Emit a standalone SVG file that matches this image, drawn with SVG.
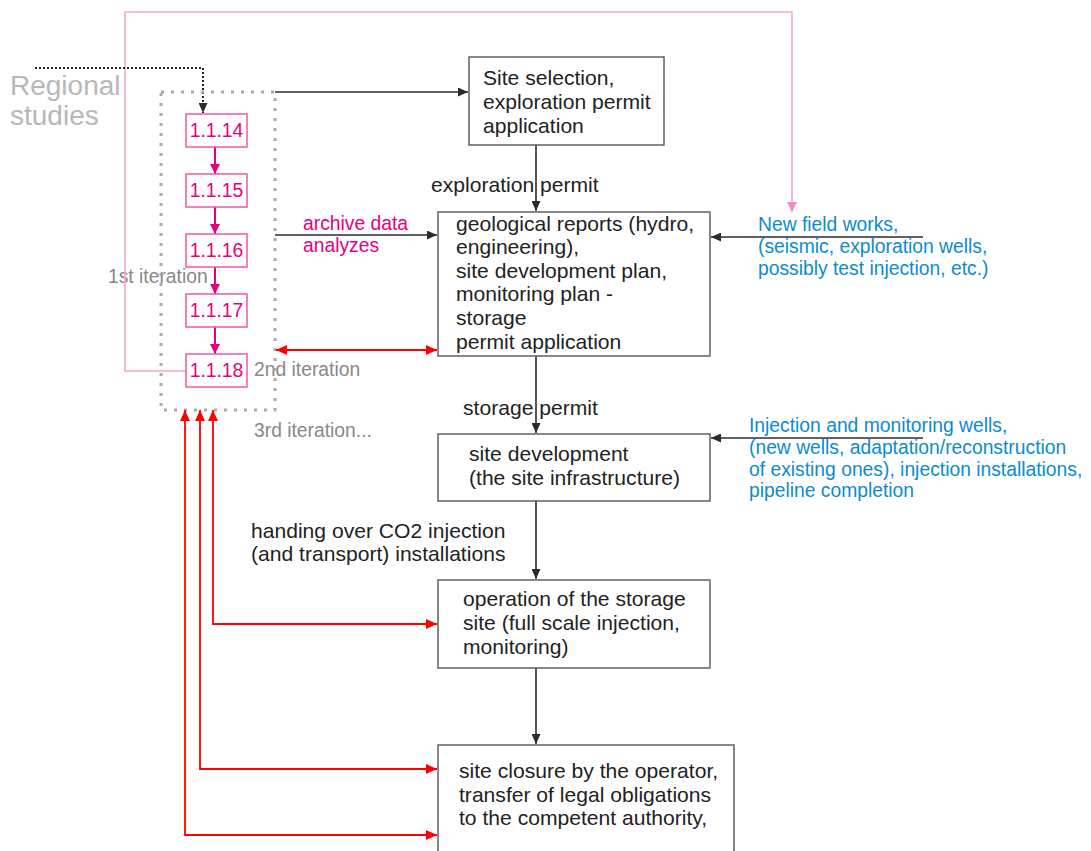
<svg xmlns="http://www.w3.org/2000/svg" width="1091" height="851" viewBox="0 0 1091 851">
  <style>
    text { font-family: "Liberation Sans", Arial, sans-serif; }
    .box { fill: #ffffff; stroke: #555555; stroke-width: 1.4; }
    .txt { font-size: 21.1px; fill: #222222; }
    .blue { font-size: 19.3px; fill: #0b8bd0; }
    .mag { font-size: 19.3px; fill: #e5007d; }
    .grey { font-size: 19.3px; fill: #888888; }
    .stepbox { fill: #ffffff; stroke: #ec5aa2; stroke-width: 1.5; }
    .steptxt { font-size: 19.3px; fill: #e5007d; text-anchor: middle; }
    .blk { fill: none; stroke: #2b2b2b; stroke-width: 1.6; marker-end: url(#ahBlack); }
    .red { fill: none; stroke: #ff0000; stroke-width: 1.8; marker-end: url(#ahRed); marker-start: url(#ahRed); }
    .magline { fill: none; stroke: #e5007d; stroke-width: 2; marker-end: url(#ahMag); }
  </style>
  <defs>
    <marker id="ahBlack" markerUnits="userSpaceOnUse" markerWidth="10" markerHeight="9" refX="10" refY="4.5" orient="auto-start-reverse">
      <path d="M0,0 L10,4.5 L0,9 z" fill="#2b2b2b"/>
    </marker>
    <marker id="ahRed" markerUnits="userSpaceOnUse" markerWidth="11" markerHeight="10" refX="11" refY="5" orient="auto-start-reverse">
      <path d="M0,0 L11,5 L0,10 z" fill="#ff0000"/>
    </marker>
    <marker id="ahMag" markerUnits="userSpaceOnUse" markerWidth="10" markerHeight="10" refX="10" refY="5" orient="auto-start-reverse">
      <path d="M0,0 L10,5 L0,10 z" fill="#e5007d"/>
    </marker>
    <marker id="ahPink" markerUnits="userSpaceOnUse" markerWidth="10" markerHeight="10" refX="10" refY="5" orient="auto-start-reverse">
      <path d="M0,0 L10,5 L0,10 z" fill="#f48ec0"/>
    </marker>
  </defs>

  <!-- free labels -->
  <g id="regional-studies">
    <text x="10" y="95" font-size="28" fill="#b8b8b8">Regional</text>
    <text x="10" y="125" font-size="28" fill="#b8b8b8">studies</text>
  </g>
  <g id="iteration-labels">
    <text class="grey" x="108" y="283">1st iteration</text>
    <text class="grey" x="254" y="376">2nd iteration</text>
    <text class="grey" x="254" y="437">3rd iteration...</text>
  </g>

  <!-- connectors -->
  <g id="connectors">
    <!-- feedback loop from the last step up to new field works -->
    <path d="M186,371 H125 V12 H792 V212" fill="none" stroke="#f5a6cb" stroke-width="1.6" marker-end="url(#ahPink)"/>
    <!-- regional studies feed -->
    <path d="M35,68 H203 V113" fill="none" stroke="#222222" stroke-width="2" stroke-dasharray="2,2" marker-end="url(#ahBlack)"/>
    <!-- iteration frame -->
    <rect x="161" y="92" width="114" height="318" fill="none" stroke="#aaaaaa" stroke-width="3" stroke-dasharray="3,7"/>
    <!-- step chain -->
    <path class="magline" d="M215,147 V174"/>
    <path class="magline" d="M215,207 V234"/>
    <path class="magline" d="M215,267 V294"/>
    <path class="magline" d="M215,327 V354"/>
    <!-- main flow -->
    <path class="blk" d="M275,92 H468" stroke-width="2"/>
    <path class="blk" d="M536,145 V211"/>
    <path class="blk" d="M275,235 H437"/>
    <path class="blk" d="M923,237 H711"/>
    <path class="blk" d="M536,356 V433"/>
    <path class="blk" d="M923,438 H711"/>
    <path class="blk" d="M536,501 V579"/>
    <path class="blk" d="M536,668 V744"/>
    <!-- iteration returns -->
    <path class="red" d="M276,350 H437"/>
    <path class="red" d="M213,410 V624 H437"/>
    <path class="red" d="M200,410 V769 H437"/>
    <path class="red" d="M185,410 V835 H437"/>
  </g>

  <!-- step nodes -->
  <g id="step-1-1-14"><rect class="stepbox" x="186" y="114" width="61" height="33"/><text class="steptxt" x="216.5" y="137">1.1.14</text></g>
  <g id="step-1-1-15"><rect class="stepbox" x="186" y="174" width="61" height="33"/><text class="steptxt" x="216.5" y="197">1.1.15</text></g>
  <g id="step-1-1-16"><rect class="stepbox" x="186" y="234" width="61" height="33"/><text class="steptxt" x="216.5" y="257">1.1.16</text></g>
  <g id="step-1-1-17"><rect class="stepbox" x="186" y="294" width="61" height="33"/><text class="steptxt" x="216.5" y="317">1.1.17</text></g>
  <g id="step-1-1-18"><rect class="stepbox" x="186" y="354" width="61" height="33"/><text class="steptxt" x="216.5" y="377">1.1.18</text></g>

  <!-- process nodes -->
  <g id="site-selection">
    <rect class="box" x="469" y="57" width="195" height="88"/>
    <text class="txt" x="483" y="85">Site selection,</text>
    <text class="txt" x="483" y="109">exploration permit</text>
    <text class="txt" x="483" y="133">application</text>
  </g>
  <g id="geological-reports">
    <rect class="box" x="438" y="212" width="272" height="144"/>
    <text class="txt" x="456" y="231">geological reports (hydro,</text>
    <text class="txt" x="456" y="254">engineering),</text>
    <text class="txt" x="456" y="278">site development plan,</text>
    <text class="txt" x="456" y="301">monitoring plan -</text>
    <text class="txt" x="456" y="325">storage</text>
    <text class="txt" x="456" y="349">permit application</text>
  </g>
  <g id="site-development">
    <rect class="box" x="438" y="434" width="272" height="67"/>
    <text class="txt" x="469" y="461">site development</text>
    <text class="txt" x="469" y="485">(the site infrastructure)</text>
  </g>
  <g id="operation">
    <rect class="box" x="438" y="580" width="272" height="88"/>
    <text class="txt" x="463" y="606">operation of the storage</text>
    <text class="txt" x="463" y="630">site (full scale injection,</text>
    <text class="txt" x="463" y="654">monitoring)</text>
  </g>
  <g id="site-closure">
    <rect class="box" x="438" y="745" width="296" height="120"/>
    <text class="txt" x="459" y="778">site closure by the operator,</text>
    <text class="txt" x="459" y="802">transfer of legal obligations</text>
    <text class="txt" x="459" y="825">to the competent authority,</text>
  </g>

  <!-- connector labels -->
  <g id="labels">
    <text class="txt" x="431" y="192">exploration permit</text>
    <text class="txt" x="463" y="415">storage permit</text>
    <text class="txt" x="251" y="538">handing over CO2 injection</text>
    <text class="txt" x="251" y="561">(and transport) installations</text>
    <text class="mag" x="303" y="230">archive data</text>
    <text class="mag" x="303" y="252">analyzes</text>
    <text class="blue" x="758" y="231">New field works,</text>
    <text class="blue" x="758" y="253">(seismic, exploration wells,</text>
    <text class="blue" x="758" y="275">possibly test injection, etc.)</text>
    <text class="blue" x="749" y="432">Injection and monitoring wells,</text>
    <text class="blue" x="749" y="454">(new wells, adaptation/reconstruction</text>
    <text class="blue" x="749" y="476">of existing ones), injection installations,</text>
    <text class="blue" x="749" y="497">pipeline completion</text>
  </g>
</svg>
